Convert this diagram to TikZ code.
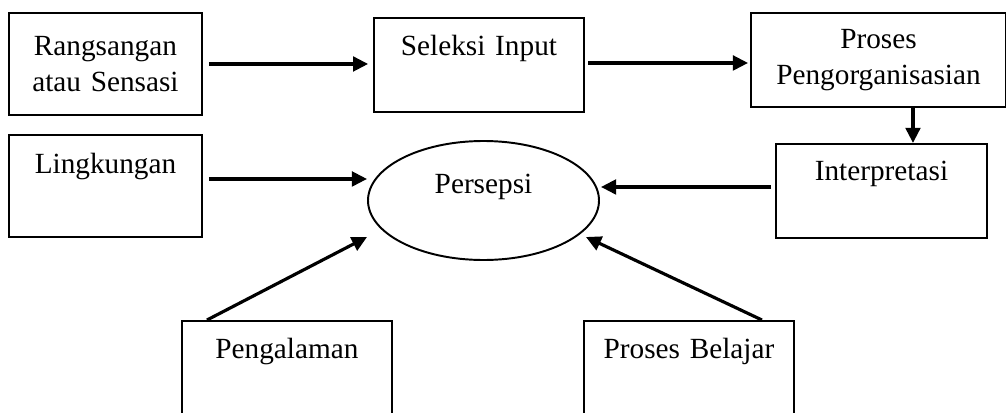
\documentclass[tikz,border=0pt]{standalone}
\usepackage{fontspec}
\setmainfont{Liberation Serif}
\usepackage{tikz}
\usetikzlibrary{shapes,arrows.meta,positioning,calc}

\begin{document}
\begin{tikzpicture}[x=0.41pt, y=-0.41pt,
    box/.style={draw, line width=0.8pt, inner sep=0pt, align=center, anchor=north west,
                font=\fontsize{12}{14.8}\selectfont},
    arr/.style={line width=1.3pt, -{Triangle[length=6.2pt, width=6pt]}}]
  \useasboundingbox (0,0) rectangle (1006,412);
  \clip (0,0) rectangle (1006,412);
  % top row
  \node[box, text width=79.13pt, minimum height=41.82pt] (rang) at (8,12)
    {Rangsangan\\atau Sensasi};
  \node[box, text width=86.1pt, text height=15.58pt, text depth=22.96pt] (seleksi) at (373,17)
    {Seleksi Input};
  \node[box, text width=104.55pt, minimum height=38.54pt] (proses) at (750,12)
    {Proses\\Pengorganisasian};
  % middle row
  \node[box, text width=79.13pt, text height=15.99pt, text depth=25.83pt] (ling) at (8,134)
    {Lingkungan};
  \node[draw, ellipse, line width=0.8pt, inner sep=0pt, minimum width=94.71pt, minimum height=48.79pt,
        text height=8pt, text depth=14.15pt, font=\fontsize{12}{14.8}\selectfont] (persepsi) at (483.5,200.5)
    {Persepsi};
  \node[box, text width=86.51pt, text height=15.17pt, text depth=23.37pt] (interp) at (775,143)
    {Interpretasi};
  % bottom row
  \node[box, text width=86.1pt, text height=15.58pt, text depth=41pt] (peng) at (181,320)
    {Pengalaman};
  \node[box, text width=86.1pt, text height=15.58pt, text depth=41pt] (belajar) at (583,320)
    {Proses Belajar};

  \draw[arr, shorten <=2.4pt, shorten >=2pt] (rang.east) -- (rang.east -| seleksi.west);
  \draw[arr, shorten <=1.4pt, shorten >=0.8pt] ($(seleksi.east)+(0,-2)$) -- ($(seleksi.east -| proses.west)+(0,-2)$);
  \draw[arr] ($(proses.south)+(34.5,0)$) -- ($(proses.south)+(34.5,35)$);
  \draw[arr, shorten <=2.4pt] ($(ling.east)+(0,-7)$) -- ($(ling.east -| persepsi.west)+(0,-7)$);
  \draw[arr, shorten <=1.6pt] ($(interp.west)+(0,-4)$) -- ($(interp.west -| persepsi.east)+(1,-4)$);
  \draw[arr] ($(peng.north west)+(26,0)$) -- ($(persepsi.west)+(0,36.5)$);
  \draw[arr] ($(belajar.north east)+(-33,0)$) -- ($(persepsi.east)+(-14,36.5)$);
\end{tikzpicture}
\end{document}
